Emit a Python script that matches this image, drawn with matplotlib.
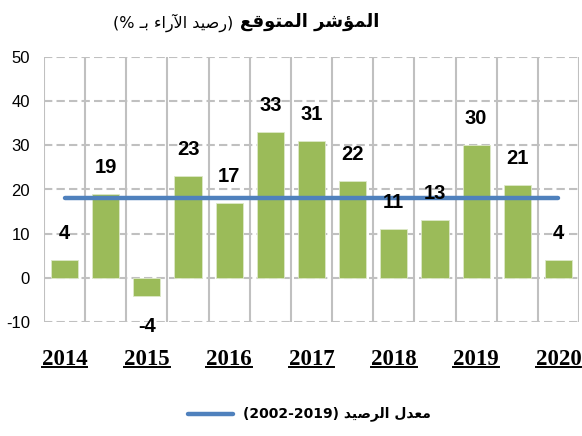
import matplotlib

matplotlib.use("Agg")
import matplotlib.pyplot as plt
from matplotlib.lines import Line2D

# data
values = [4, 19, -4, 23, 17, 33, 31, 22, 11, 13, 30, 21, 4]
year_labels = ["2014", "2015", "2016", "2017", "2018", "2019", "2020"]
average = 18
yticks = [-10, 0, 10, 20, 30, 40, 50]

title_main = "المؤشر المتوقع"
title_unit = "رصيد الآراء بـ"
legend_words = "معدل الرصيد"
legend_years = "(2002-2019)"

BAR_COLOR = "#9BBB59"
LINE_COLOR = "#4F81BD"
GRID_COLOR = "#C0C0C0"

# minimal arabic shaping (matplotlib has no complex text layout)
DUAL = {"ب": 0xFE8F, "ت": 0xFE95, "ث": 0xFE99, "ج": 0xFE9D, "ح": 0xFEA1, "خ": 0xFEA5,
        "س": 0xFEB1, "ش": 0xFEB5, "ص": 0xFEB9, "ض": 0xFEBD, "ط": 0xFEC1, "ظ": 0xFEC5,
        "ع": 0xFEC9, "غ": 0xFECD, "ف": 0xFED1, "ق": 0xFED5, "ك": 0xFED9, "ل": 0xFEDD,
        "م": 0xFEE1, "ن": 0xFEE5, "ه": 0xFEE9, "ي": 0xFEF1, "ئ": 0xFE89}
RIGHT = {"آ": 0xFE81, "أ": 0xFE83, "ؤ": 0xFE85, "إ": 0xFE87, "ا": 0xFE8D, "ة": 0xFE93,
         "د": 0xFEA9, "ذ": 0xFEAB, "ر": 0xFEAD, "ز": 0xFEAF, "و": 0xFEED, "ى": 0xFEEF}
LAM_ALEF = {"آ": 0xFEF5, "أ": 0xFEF7, "إ": 0xFEF9, "ا": 0xFEFB}
TATWEEL = "\u0640"


def shape_ar(text):
    # merge lam + alef into ligature tokens
    tokens = []
    i = 0
    while i < len(text):
        c = text[i]
        if c == "ل" and i + 1 < len(text) and text[i + 1] in LAM_ALEF:
            tokens.append(("lamalef", LAM_ALEF[text[i + 1]]))
            i += 2
            continue
        tokens.append(("char", c))
        i += 1

    def jtype(tok):
        kind, c = tok
        if kind == "lamalef":
            return "R"
        if c in DUAL or c == TATWEEL:
            return "D"
        if c in RIGHT:
            return "R"
        return "U"

    out = []
    for k, tok in enumerate(tokens):
        jt = jtype(tok)
        prev = k > 0 and jtype(tokens[k - 1]) == "D" and jt in "DR"
        nxt = jt == "D" and k + 1 < len(tokens) and jtype(tokens[k + 1]) in "DR"
        kind, c = tok
        if kind == "lamalef":
            out.append(chr(c + (1 if prev else 0)))
        elif c == TATWEEL or jt == "U":
            out.append(c if c != "ء" else "\ufe80")
        elif jt == "R":
            out.append(chr(RIGHT[c] + (1 if prev else 0)))
        else:
            off = 3 if (prev and nxt) else 1 if prev else 2 if nxt else 0
            out.append(chr(DUAL[c] + off))
    return "".join(reversed(out))


fig = plt.figure(figsize=(5.82, 4.36), dpi=100)
W, H = 582, 436
ax = fig.add_axes([44 / W, 1 - 322 / H, (579 - 44) / W, (322 - 57) / H])

x = list(range(len(values)))
ax.bar(x, values, width=0.66, color=BAR_COLOR, edgecolor="#DDE8C8", linewidth=0.6, zorder=3)
ax.plot([x[0], x[-1]], [average, average], color=LINE_COLOR, lw=3.2,
        solid_capstyle="round", zorder=4)

for xi, v in zip(x, values):
    if v >= 0:
        ax.annotate(str(v), (xi, v), xytext=(0, 17), textcoords="offset pixels",
                    ha="center", va="bottom", fontsize=14.5, fontweight="bold",
                    family="Liberation Sans", zorder=5)
    else:
        ax.annotate(str(v), (xi, v), xytext=(0, -22), textcoords="offset pixels",
                    ha="center", va="top", fontsize=14.5, fontweight="bold",
                    family="Liberation Sans", zorder=5, annotation_clip=False)

ax.set_xlim(-0.5, len(values) - 0.5)
ax.set_ylim(-10, 50)
ax.set_yticks(yticks)
ax.set_yticklabels([str(t) for t in yticks], fontsize=12, family="Liberation Sans")
ax.tick_params(axis="y", length=0, pad=10)
ax.set_xticks([])
ax.set_xticks([i - 0.5 for i in range(len(values) + 1)], minor=True)
ax.tick_params(axis="x", which="both", length=0, labelbottom=False)
ax.grid(axis="x", which="minor", color=GRID_COLOR, lw=1.5, ls="-", zorder=0)
ax.grid(axis="y", which="major", color=GRID_COLOR, lw=1.5, ls=(0, (4, 2)), zorder=0)
for s in ax.spines.values():
    s.set_visible(False)

# year labels under every second bar, underlined
year_texts = []
for k, lbl in enumerate(year_labels):
    t = ax.text(2 * k, -43 / 265, lbl, transform=ax.get_xaxis_transform(), ha="center",
                va="baseline", fontsize=16.5, fontweight="bold", family="Liberation Serif")
    year_texts.append(t)

# title
fig.text(240 / W, 1 - 22 / H, shape_ar(title_main), ha="left", va="center",
         fontsize=13, fontweight="bold", family="DejaVu Sans")
fig.text(233 / W, 1 - 23 / H, "(% " + shape_ar(title_unit) + ")", ha="right", va="center",
         fontsize=11.5, family="DejaVu Sans")

# legend
fig.add_artist(Line2D([188 / W, 233 / W], [1 - 414 / H, 1 - 414 / H], color=LINE_COLOR,
                      lw=3.2, solid_capstyle="round", transform=fig.transFigure))
fig.text(243 / W, 1 - 414 / H, legend_years + " " + shape_ar(legend_words), ha="left",
         va="center", fontsize=10, fontweight="bold", family="DejaVu Sans")

fig.canvas.draw()
for t in year_texts:
    bb = t.get_window_extent()
    # baseline of the label sits at the bottom of the digits
    base = (1 - 365 / H) * H
    fig.add_artist(Line2D([bb.x0 / W, bb.x1 / W], [(base - 2) / H, (base - 2) / H],
                          color="black", lw=1.4, transform=fig.transFigure))

fig.savefig("out.png", dpi=100)
